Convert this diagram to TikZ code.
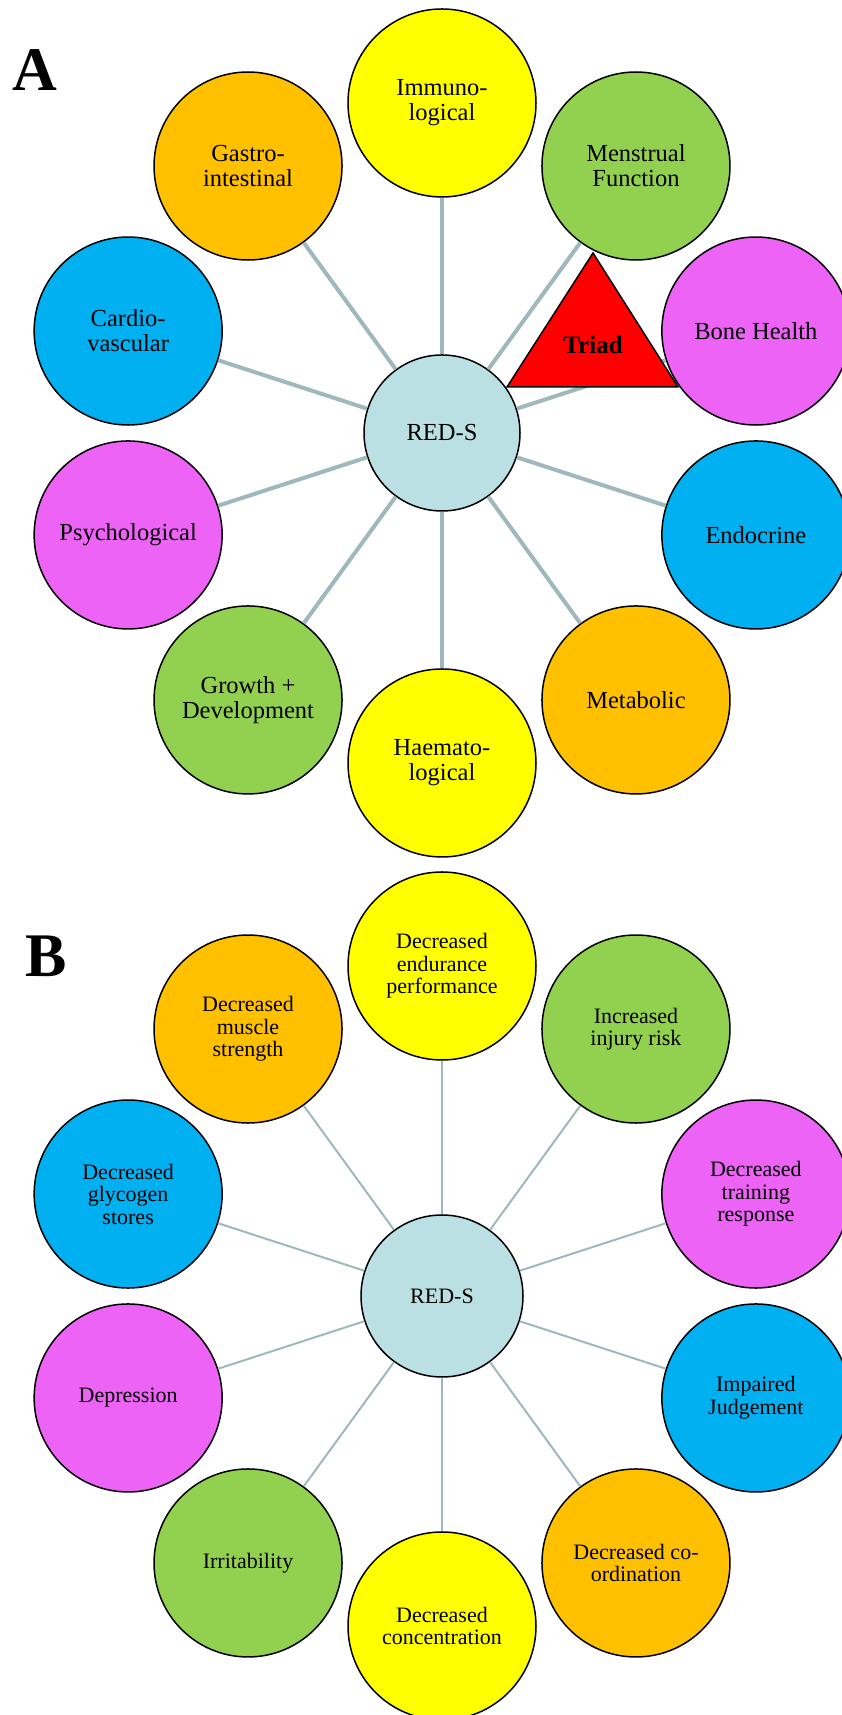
\documentclass[tikz,border=0pt]{standalone}
\usepackage{fontspec}
\setmainfont{Liberation Serif}
\usetikzlibrary{calc}
\definecolor{hubblue}{HTML}{BBE0E3}
\definecolor{petyellow}{HTML}{FFFF00}
\definecolor{petgreen}{HTML}{92D050}
\definecolor{petorange}{HTML}{FFC000}
\definecolor{petblue}{HTML}{00B0F0}
\definecolor{petpink}{HTML}{EC63F6}
\definecolor{spoke}{HTML}{9FB8BC}

\begin{document}
\begin{tikzpicture}[x=1pt,y=1pt,
    petal/.style={circle,draw=black,line width=1.5pt,minimum size=188pt,inner sep=0pt,align=center},
    hub/.style={circle,draw=black,line width=1.5pt,fill=hubblue,inner sep=0pt,align=center},
    fontA/.style={font=\fontsize{24.5}{25}\selectfont},
    fontB/.style={font=\fontsize{22}{22.5}\selectfont},
    panel/.style={anchor=base west,font=\fontsize{62}{62}\selectfont\bfseries}]
    \useasboundingbox (0,0) rectangle (841,1715);
    % A
    \node[panel] (labA) at (9,1624) {A};
    \node[hub,fontA,minimum size=156pt] (redsA) at (442,1282) {RED-S};
    \foreach \ang/\col/\txt [count=\i] in {90/petyellow/{Immuno-\\logical},
            54/petgreen/{Menstrual\\Function}, 18/petpink/{Bone Health},
            -18/petblue/{Endocrine}, -54/petorange/{Metabolic},
            -90/petyellow/{Haemato-\\logical}, -126/petgreen/{Growth +\\Development},
            -162/petpink/{Psychological}, 162/petblue/{Cardio-\\vascular},
            126/petorange/{Gastro-\\intestinal}}
        \node[petal,fontA,fill=\col] (petA\i) at ($(redsA)+(\ang:330)$) {\txt};
    \foreach \i in {1,...,10}
        \draw[spoke,line width=4pt] (redsA) -- (petA\i);
    \filldraw[fill=red,line width=1.5pt] (593,1462) -- (507,1328) -- (678,1328) -- cycle;
    \node[font=\fontsize{25}{25}\selectfont\bfseries] (triad) at (593,1370) {Triad};
    % B
    \node[panel] (labB) at (22,738) {B};
    \node[hub,fontB,minimum size=162pt] (redsB) at (442,419) {RED-S};
    \foreach \ang/\col/\txt [count=\i] in {90/petyellow/{Decreased\\endurance\\performance},
            54/petgreen/{Increased\\injury risk}, 18/petpink/{Decreased\\training\\response},
            -18/petblue/{Impaired\\Judgement}, -54/petorange/{Decreased co-\\ordination},
            -90/petyellow/{Decreased\\concentration}, -126/petgreen/{Irritability},
            -162/petpink/{Depression}, 162/petblue/{Decreased\\glycogen\\stores},
            126/petorange/{Decreased\\muscle\\strength}}
        \node[petal,fontB,fill=\col] (petB\i) at ($(redsB)+(\ang:330)$) {\txt};
    \foreach \i in {1,...,10}
        \draw[spoke,line width=2pt] (redsB) -- (petB\i);
\end{tikzpicture}
\end{document}
